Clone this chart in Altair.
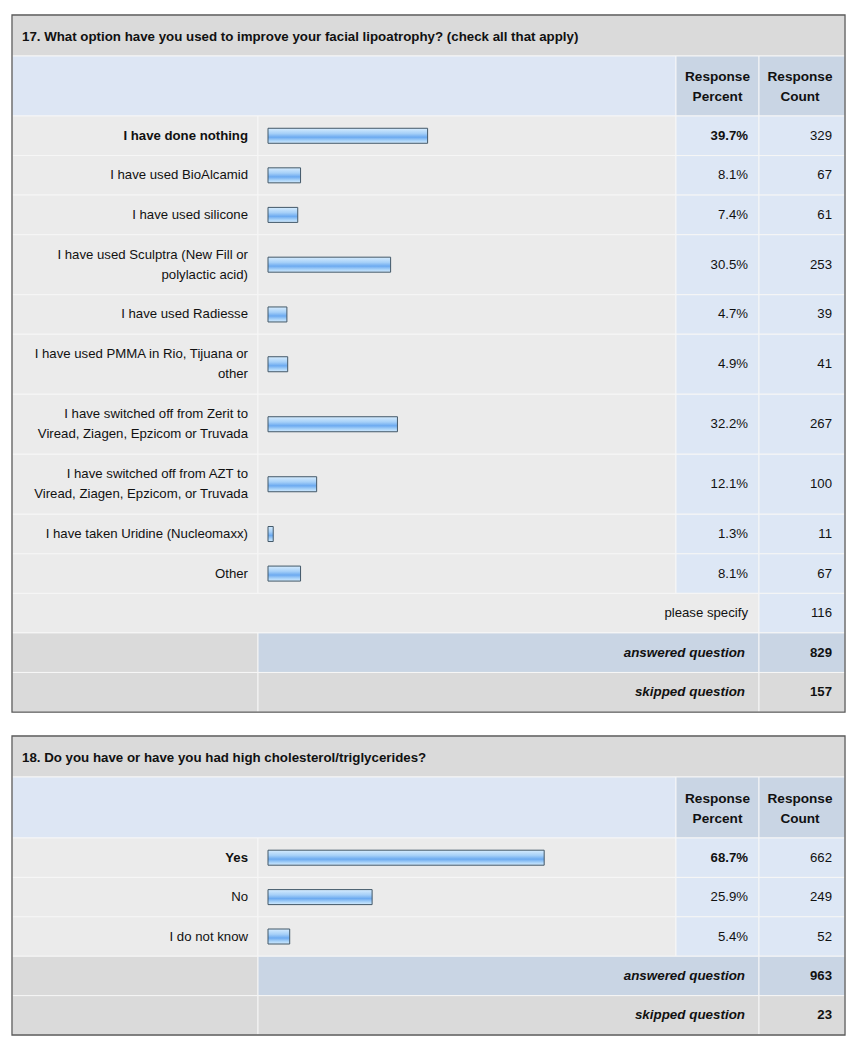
import altair as alt
import pandas as pd

# ---------------- data ----------------
q17_title = "17. What option have you used to improve your facial lipoatrophy? (check all that apply)"
q17_options = [
    "I have done nothing",
    "I have used BioAlcamid",
    "I have used silicone",
    "I have used Sculptra (New Fill or\npolylactic acid)",
    "I have used Radiesse",
    "I have used PMMA in Rio, Tijuana or\nother",
    "I have switched off from Zerit to\nViread, Ziagen, Epzicom or Truvada",
    "I have switched off from AZT to\nViread, Ziagen, Epzicom, or Truvada",
    "I have taken Uridine (Nucleomaxx)",
    "Other",
]
q17_percent = [39.7, 8.1, 7.4, 30.5, 4.7, 4.9, 32.2, 12.1, 1.3, 8.1]
q17_count = [329, 67, 61, 253, 39, 41, 267, 100, 11, 67]
q17_specify = 116
q17_answered = 829
q17_skipped = 157

q18_title = "18. Do you have or have you had high cholesterol/triglycerides?"
q18_options = ["Yes", "No", "I do not know"]
q18_percent = [68.7, 25.9, 5.4]
q18_count = [662, 249, 52]
q18_answered = 963
q18_skipped = 23

header_percent = "Response\nPercent"
header_count = "Response\nCount"
specify_text = "please specify"
answered_text = "answered question"
skipped_text = "skipped question"

# ---------------- layout ----------------
OFF = 8
L, C1, C2, C3, R = 12, 258, 676, 759, 845
GRAY = "#dadada"
HEAD_BLUE = "#dde6f4"
HEAD_CELL = "#c9d5e4"
ROW_GRAY = "#ebebeb"
CELL_BLUE = "#dde7f5"
FONT = "Liberation Sans"
LINE_H = 20

cells, texts, bars, frames = [], [], [], []


def cell(x0, x1, y0, y1, fill):
    cells.append(dict(x=x0 - OFF, x2=x1 - OFF, y=y0 - OFF, y2=y1 - OFF, fill=fill))


def text(x, y, t, style):
    n = t.count("\n")
    texts.append(dict(x=x - OFF, y=y - OFF - n * LINE_H / 2, text=t, style=style))


def table(top, title, options, percent, count, specify, answered, skipped, row1, header_h):
    y = top
    cell(L, R, y, y + 41, GRAY)
    text(22, y + 22, title, "title")
    y += 41
    cell(L, C2, y, y + header_h, HEAD_BLUE)
    cell(C2, C3, y, y + header_h, HEAD_CELL)
    cell(C3, R, y, y + header_h, HEAD_CELL)
    text((C2 + C3) / 2, y + header_h / 2 + 1, header_percent, "header")
    text((C3 + R) / 2 - 2, y + header_h / 2 + 1, header_count, "header")
    y += header_h
    top_pct = max(percent)
    for opt, p, c in zip(options, percent, count):
        h = 60 if "\n" in opt else row1
        cell(L, C1, y, y + h, ROW_GRAY)
        cell(C1, C2, y, y + h, ROW_GRAY)
        cell(C2, C3, y, y + h, CELL_BLUE)
        cell(C3, R, y, y + h, CELL_BLUE)
        yc = y + h / 2
        b = "_b" if p == top_pct else ""
        text(248, yc, opt, "label" + b)
        text(748, yc, f"{p:.1f}%", "num" + b)
        text(832, yc, str(c), "num")
        bars.append(dict(pct=p, zero=0, y0=yc - 7.5 - OFF, y1=yc + 7.5 - OFF))
        y += h
    if specify is not None:
        cell(L, C3, y, y + row1, ROW_GRAY)
        cell(C3, R, y, y + row1, CELL_BLUE)
        text(748, y + row1 / 2, specify_text, "num")
        text(832, y + row1 / 2, str(specify), "num")
        y += row1
    cell(L, C1, y, y + row1, GRAY)
    cell(C1, C3, y, y + row1, HEAD_CELL)
    cell(C3, R, y, y + row1, HEAD_CELL)
    text(745, y + row1 / 2, answered_text, "foot")
    text(832, y + row1 / 2, str(answered), "num_b")
    y += row1
    cell(L, C1, y, y + row1, GRAY)
    cell(C1, C3, y, y + row1, GRAY)
    cell(C3, R, y, y + row1, GRAY)
    text(745, y + row1 / 2, skipped_text, "foot")
    text(832, y + row1 / 2, str(skipped), "num_b")
    y += row1
    frames.append(dict(x=L - OFF, x2=R - OFF, y=top - OFF, y2=y - OFF))


table(15, q17_title, q17_options, q17_percent, q17_count, q17_specify,
      q17_answered, q17_skipped, 39.56, 60)
table(736, q18_title, q18_options, q18_percent, q18_count, None,
      q18_answered, q18_skipped, 39.4, 61)

cells_df = pd.DataFrame(cells)
texts_df = pd.DataFrame(texts)
bars_df = pd.DataFrame(bars)
frames_df = pd.DataFrame(frames)

PX = dict(scale=None, axis=None)

cell_layer = alt.Chart(cells_df).mark_rect(stroke="#f6f6f6", strokeWidth=1).encode(
    x=alt.X("x:Q", **PX), x2="x2:Q",
    y=alt.Y("y:Q", **PX), y2="y2:Q",
    fill=alt.Fill("fill:N", scale=None),
)

frame_layer = alt.Chart(frames_df).mark_rect(
    fillOpacity=0, stroke="#5a5a5a", strokeWidth=1.3
).encode(
    x=alt.X("x:Q", **PX), x2="x2:Q",
    y=alt.Y("y:Q", **PX), y2="y2:Q",
)

gradient = alt.Gradient(
    gradient="linear", x1=0, x2=0, y1=0, y2=1,
    stops=[
        alt.GradientStop(offset=0, color="#d6ecfe"),
        alt.GradientStop(offset=0.35, color="#a6d0f8"),
        alt.GradientStop(offset=0.6, color="#6caaf0"),
        alt.GradientStop(offset=0.82, color="#a9d3f9"),
        alt.GradientStop(offset=1, color="#d3eafd"),
    ],
)

bar_layer = alt.Chart(bars_df).mark_rect(
    fill=gradient, stroke="#435868", strokeWidth=1
).encode(
    x=alt.X("pct:Q", scale=alt.Scale(domain=[0, 100], range=[260, 662]), axis=None),
    x2="zero:Q",
    y=alt.Y("y0:Q", **PX), y2="y1:Q",
)

FS = 13.2
styles = {
    "title": dict(align="left", fontWeight="bold", fontSize=13.3),
    "header": dict(align="center", fontWeight="bold", fontSize=13.6),
    "label": dict(align="right", fontSize=FS),
    "label_b": dict(align="right", fontWeight="bold", fontSize=FS),
    "num": dict(align="right", fontSize=FS),
    "num_b": dict(align="right", fontWeight="bold", fontSize=FS),
    "foot": dict(align="right", fontWeight="bold", fontStyle="italic", fontSize=13.4),
}

text_layers = []
for key, st in styles.items():
    sub = texts_df[texts_df["style"] == key]
    if sub.empty:
        continue
    text_layers.append(
        alt.Chart(sub).mark_text(
            baseline="middle", font=FONT, color="#111111",
            lineBreak="\n", lineHeight=LINE_H, **st
        ).encode(
            x=alt.X("x:Q", **PX),
            y=alt.Y("y:Q", **PX),
            text="text:N",
        )
    )

chart = alt.layer(cell_layer, frame_layer, bar_layer, *text_layers).resolve_scale(
    x="independent", y="independent"
).properties(
    width=846, height=1039, padding=0,
    autosize=alt.AutoSizeParams(type="none"),
).configure_view(stroke=None)

chart.save("out.html", embed_options={"renderer": "svg", "actions": False})
